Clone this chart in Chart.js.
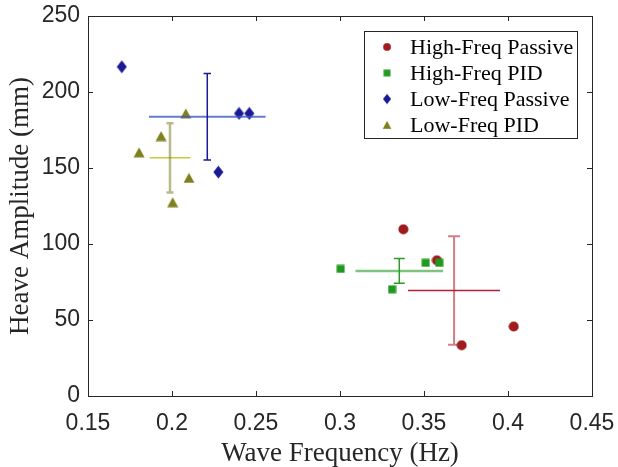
<!doctype html>
<html>
<head>
<meta charset="utf-8">
<style>
  html, body { margin:0; padding:0; background:#fff; }
  #wrap { width:618px; height:467px; }
</style>
</head>
<body>
<div id="wrap"><canvas id="c" width="618" height="467"></canvas></div>
<script src="https://cdn.jsdelivr.net/npm/chart.js@4/dist/chart.umd.min.js"></script>
<script>
const seriesNames = ["High-Freq Passive", "High-Freq PID", "Low-Freq Passive", "Low-Freq PID"];

const hfPassiveX = [0.3377, 0.3577, 0.3724, 0.4034];
const hfPassiveY = [109.7, 89.3, 33.4, 45.7];
const hfPidX = [0.3004, 0.3310, 0.3510, 0.3591];
const hfPidY = [83.6, 70.2, 87.6, 87.6];
const lfPassiveX = [0.1701, 0.2399, 0.2460, 0.2276];
const lfPassiveY = [216.6, 185.9, 185.9, 147.3];
const lfPidX = [0.2082, 0.1935, 0.1804, 0.2101, 0.2004];
const lfPidY = [185.9, 171.0, 160.3, 143.5, 127.5];

// mean +/- std crosses, one per group (same order as seriesNames)
const errCenterX = [0.3679, 0.3353, 0.2210, 0.1988];
const errCenterY = [69.4, 82.3, 183.7, 156.7];
const errHalfX = [0.0274, 0.0261, 0.0347, 0.0121];
const errHalfY = [35.7, 8.2, 28.5, 22.8];

const xTicks = [0.15, 0.2, 0.25, 0.3, 0.35, 0.4, 0.45];
const yTicks = [0, 50, 100, 150, 200, 250];

const AXIS = "#262626";
const markerColors = ["#9e1b1e", "#1f9a1f", "#1a1a94", "#7f7f1e"];
// horizontal / vertical bar colours and cap widths
const errStyle = [
  { h: "rgb(176,30,58)", v: "rgba(176,40,55,0.6)", hw: 1.5, vw: 2, cap: 12 },
  { h: "rgba(40,155,40,0.6)", v: "rgb(40,155,40)", hw: 2.5, vw: 1.5, cap: 11 },
  { h: "rgba(60,90,195,0.8)", v: "#1a1a94", hw: 2, vw: 1.5, cap: 7.5 },
  { h: "rgb(200,200,60)", v: "rgba(128,128,40,0.55)", hw: 1.5, vw: 2.5, cap: 7 }
];

function makeMarker(kind, color) {
  const c = document.createElement("canvas");
  const g = c.getContext("2d");
  if (kind === "circle") {
    c.width = 11; c.height = 11;
    g.fillStyle = color;
    g.beginPath(); g.arc(5.5, 5.5, 5, 0, Math.PI * 2); g.fill();
  } else if (kind === "square") {
    c.width = 9; c.height = 9;
    g.fillStyle = color;
    g.fillRect(0.5, 0.5, 8, 8);
  } else if (kind === "diamond") {
    c.width = 11; c.height = 14;
    g.fillStyle = color;
    g.beginPath(); g.moveTo(5.5, 0.5); g.lineTo(10.5, 7); g.lineTo(5.5, 13.5); g.lineTo(0.5, 7); g.closePath(); g.fill();
  } else {
    c.width = 12; c.height = 11;
    g.fillStyle = color;
    g.beginPath(); g.moveTo(6, 0.5); g.lineTo(11.5, 10.5); g.lineTo(0.5, 10.5); g.closePath(); g.fill();
  }
  return c;
}

const markers = [
  makeMarker("circle", markerColors[0]),
  makeMarker("square", markerColors[1]),
  makeMarker("diamond", markerColors[2]),
  makeMarker("triangle", markerColors[3])
];

function pts(xs, ys) {
  return xs.map((x, i) => ({ x: x, y: ys[i] }));
}

const allX = [hfPassiveX, hfPidX, lfPassiveX, lfPidX];
const allY = [hfPassiveY, hfPidY, lfPassiveY, lfPidY];

const datasets = seriesNames.map((name, i) => ({
  label: name,
  data: pts(allX[i], allY[i]),
  pointStyle: markers[i],
  backgroundColor: markerColors[i],
  borderColor: markerColors[i],
  showLine: false,
  order: 3 - i
}));

const errorBars = {
  id: "errorBars",
  afterDatasetsDraw(chart) {
    const ctx = chart.ctx;
    const xs = chart.scales.x, ys = chart.scales.y;
    ctx.save();
    errCenterX.forEach((cx, i) => {
      const st = errStyle[i];
      const px = xs.getPixelForValue(cx);
      const py = ys.getPixelForValue(errCenterY[i]);
      const x0 = xs.getPixelForValue(cx - errHalfX[i]);
      const x1 = xs.getPixelForValue(cx + errHalfX[i]);
      const y0 = ys.getPixelForValue(errCenterY[i] + errHalfY[i]);
      const y1 = ys.getPixelForValue(errCenterY[i] - errHalfY[i]);
      ctx.strokeStyle = st.h; ctx.lineWidth = st.hw;
      ctx.beginPath(); ctx.moveTo(x0, py); ctx.lineTo(x1, py); ctx.stroke();
      ctx.strokeStyle = st.v; ctx.lineWidth = st.vw;
      ctx.beginPath();
      ctx.moveTo(px, y0); ctx.lineTo(px, y1);
      ctx.moveTo(px - st.cap / 2, y0); ctx.lineTo(px + st.cap / 2, y0);
      ctx.moveTo(px - st.cap / 2, y1); ctx.lineTo(px + st.cap / 2, y1);
      ctx.stroke();
    });
    ctx.restore();
  }
};

const boxAndLegend = {
  id: "boxAndLegend",
  afterDraw(chart) {
    const ctx = chart.ctx;
    const a = chart.chartArea;
    const xs = chart.scales.x, ys = chart.scales.y;
    ctx.save();
    // axes box with inward ticks on all sides
    ctx.strokeStyle = AXIS; ctx.lineWidth = 1;
    ctx.strokeRect(Math.round(a.left) + 0.5, Math.round(a.top) + 0.5,
      Math.round(a.right - a.left), Math.round(a.bottom - a.top));
    ctx.beginPath();
    xTicks.forEach(v => {
      const x = Math.round(xs.getPixelForValue(v)) + 0.5;
      ctx.moveTo(x, a.bottom); ctx.lineTo(x, a.bottom - 5);
      ctx.moveTo(x, a.top); ctx.lineTo(x, a.top + 5);
    });
    yTicks.forEach(v => {
      const y = Math.round(ys.getPixelForValue(v)) + 0.5;
      ctx.moveTo(a.left, y); ctx.lineTo(a.left + 5, y);
      ctx.moveTo(a.right, y); ctx.lineTo(a.right - 5, y);
    });
    ctx.stroke();

    // legend
    const lx = 364.5, ly = 31.5, lw = 213, lh = 107;
    ctx.fillStyle = "#fff";
    ctx.fillRect(lx, ly, lw, lh);
    ctx.strokeStyle = AXIS; ctx.lineWidth = 1;
    ctx.strokeRect(lx, ly, lw, lh);
    ctx.font = '22px "Liberation Serif", "Times New Roman", serif';
    ctx.textBaseline = "middle";
    ctx.fillStyle = "#000";
    chart.data.datasets.forEach((ds, i) => {
      const ry = 47 + i * 26;
      const m = markers[i];
      const w = m.width * 0.8, h = m.height * 0.8;
      ctx.drawImage(m, 387 - w / 2, ry - h / 2, w, h);
      ctx.fillText(ds.label, 410, ry + 1);
    });
    ctx.restore();
  }
};

function noOverflow(s) {
  s.paddingLeft = 0; s.paddingRight = 0; s.paddingTop = 0; s.paddingBottom = 0;
}

new Chart(document.getElementById("c"), {
  type: "scatter",
  data: { datasets: datasets },
  options: {
    responsive: false,
    animation: false,
    events: [],
    layout: { padding: { top: 16, right: 26, left: 0, bottom: 0 } },
    plugins: { legend: { display: false }, tooltip: { enabled: false } },
    elements: { point: { radius: 5 } },
    scales: {
      x: {
        type: "linear",
        min: 0.15, max: 0.45,
        afterBuildTicks: s => { s.ticks = xTicks.map(v => ({ value: v })); },
        afterFit: s => { s.height = 71; noOverflow(s); },
        grid: { display: false, drawTicks: false },
        border: { display: false },
        ticks: {
          color: AXIS, padding: 14, maxRotation: 0, autoSkip: false,
          font: { family: '"Liberation Sans", Arial, Helvetica, sans-serif', size: 23 },
          callback: v => String(v)
        },
        title: {
          display: true, text: "Wave Frequency (Hz)", color: AXIS,
          padding: { top: 0, bottom: -3 },
          font: { family: '"Liberation Serif", "Times New Roman", serif', size: 27 }
        }
      },
      y: {
        type: "linear",
        min: 0, max: 250,
        afterBuildTicks: s => { s.ticks = yTicks.map(v => ({ value: v })); },
        afterFit: s => { s.width = 88; noOverflow(s); },
        grid: { display: false, drawTicks: false },
        border: { display: false },
        ticks: {
          color: AXIS, padding: 8, autoSkip: false,
          font: { family: '"Liberation Sans", Arial, Helvetica, sans-serif', size: 23 },
          callback: v => String(v)
        },
        title: {
          display: true, text: "Heave Amplitude (mm)", color: AXIS,
          padding: { top: 5, bottom: 0 },
          font: { family: '"Liberation Serif", "Times New Roman", serif', size: 27 }
        }
      }
    }
  },
  plugins: [errorBars, boxAndLegend]
});
</script>
</body>
</html>
